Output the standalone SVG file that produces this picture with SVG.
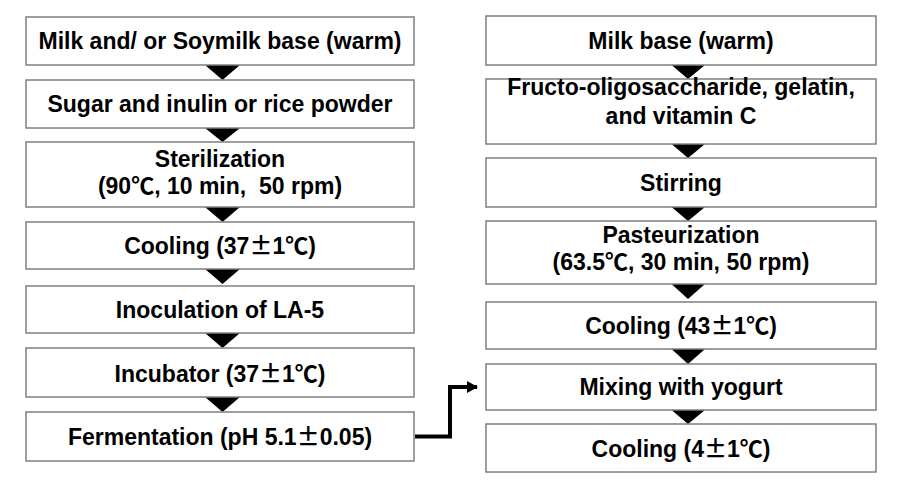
<svg xmlns="http://www.w3.org/2000/svg" width="918" height="482" viewBox="0 0 918 482">
<style>
.box{fill:#ffffff;stroke:#7f7f7f;stroke-width:1.5}
.t{font-family:"Liberation Sans","Noto Sans CJK KR",sans-serif;font-weight:bold;font-size:23px;fill:#000;text-anchor:middle}
.pm{font-family:"Noto Sans CJK KR","Liberation Sans",sans-serif;font-weight:bold}
.tri{fill:#000}
.conn{fill:none;stroke:#000;stroke-width:4}
</style>
<defs>
<marker id="ah" markerUnits="userSpaceOnUse" markerWidth="12" markerHeight="12" refX="10" refY="6" orient="auto">
<path d="M0,0 L11,6 L0,12 Z" fill="#000"/>
</marker>
</defs>
<rect width="918" height="482" fill="#ffffff"/>
<g id="connectors">
<polygon class="tri" points="205,65 240,65 222.5,80"/>
<polygon class="tri" points="205,128 240,128 222.5,142"/>
<polygon class="tri" points="205,207 240,207 222.5,222"/>
<polygon class="tri" points="205,269 240,269 222.5,284"/>
<polygon class="tri" points="205,333 240,333 222.5,348"/>
<polygon class="tri" points="205,397 240,397 222.5,412"/>
<polygon class="tri" points="671.5,65 705,65 688,79"/>
<polygon class="tri" points="671.5,144 705,144 688,158"/>
<polygon class="tri" points="671.5,207 705,207 688,221"/>
<polygon class="tri" points="671.5,284 705,284 688,299"/>
<polygon class="tri" points="671.5,349 705,349 688,364"/>
<polygon class="tri" points="671.5,410 705,410 688,424"/>
<path class="conn" d="M415,436.5 H450 V387 H477" marker-end="url(#ah)"/>
</g>
<g id="n1"><rect class="box" x="26" y="17" width="388" height="48"/><text class="t" x="220" y="49">Milk and/ or Soymilk base (warm)</text></g>
<g id="n2"><rect class="box" x="26" y="80" width="388" height="48"/><text class="t" x="220" y="112">Sugar and inulin or rice powder</text></g>
<g id="n3"><rect class="box" x="26" y="142" width="388" height="65"/><text class="t" x="220" y="166.5">Sterilization</text><text class="t" x="220" y="194" xml:space="preserve">(90℃, 10 min,  50 rpm)</text></g>
<g id="n4"><rect class="box" x="26" y="222" width="388" height="47"/><text class="t" x="220" y="254">Cooling (37<tspan class="pm">±</tspan>1℃)</text></g>
<g id="n5"><rect class="box" x="26" y="286" width="388" height="47"/><text class="t" x="220" y="317.5">Inoculation of LA-5</text></g>
<g id="n6"><rect class="box" x="26" y="348" width="388" height="49"/><text class="t" x="220" y="381.5">Incubator (37<tspan class="pm">±</tspan>1℃)</text></g>
<g id="n7"><rect class="box" x="26" y="412" width="388" height="49"/><text class="t" x="220" y="444.5">Fermentation (pH 5.1<tspan class="pm">±</tspan>0.05)</text></g>
<g id="r1"><rect class="box" x="486" y="16" width="390" height="49"/><text class="t" x="681" y="48.5">Milk base (warm)</text></g>
<g id="r2"><rect class="box" x="486" y="79" width="390" height="65"/><text class="t" x="681" y="95">Fructo-oligosaccharide, gelatin,</text><text class="t" x="681" y="124">and vitamin C</text></g>
<g id="r3"><rect class="box" x="486" y="158" width="390" height="49"/><text class="t" x="681" y="191">Stirring</text></g>
<g id="r4"><rect class="box" x="486" y="221" width="390" height="63"/><text class="t" x="681" y="242.5">Pasteurization</text><text class="t" x="681" y="269.5">(63.5℃, 30 min, 50 rpm)</text></g>
<g id="r5"><rect class="box" x="486" y="302" width="390" height="47"/><text class="t" x="681" y="333.5">Cooling (43<tspan class="pm">±</tspan>1℃)</text></g>
<g id="r6"><rect class="box" x="486" y="364" width="390" height="46"/><text class="t" x="681" y="395">Mixing with yogurt</text></g>
<g id="r7"><rect class="box" x="486" y="424" width="390" height="48"/><text class="t" x="681" y="456.5">Cooling (4<tspan class="pm">±</tspan>1℃)</text></g>
</svg>
